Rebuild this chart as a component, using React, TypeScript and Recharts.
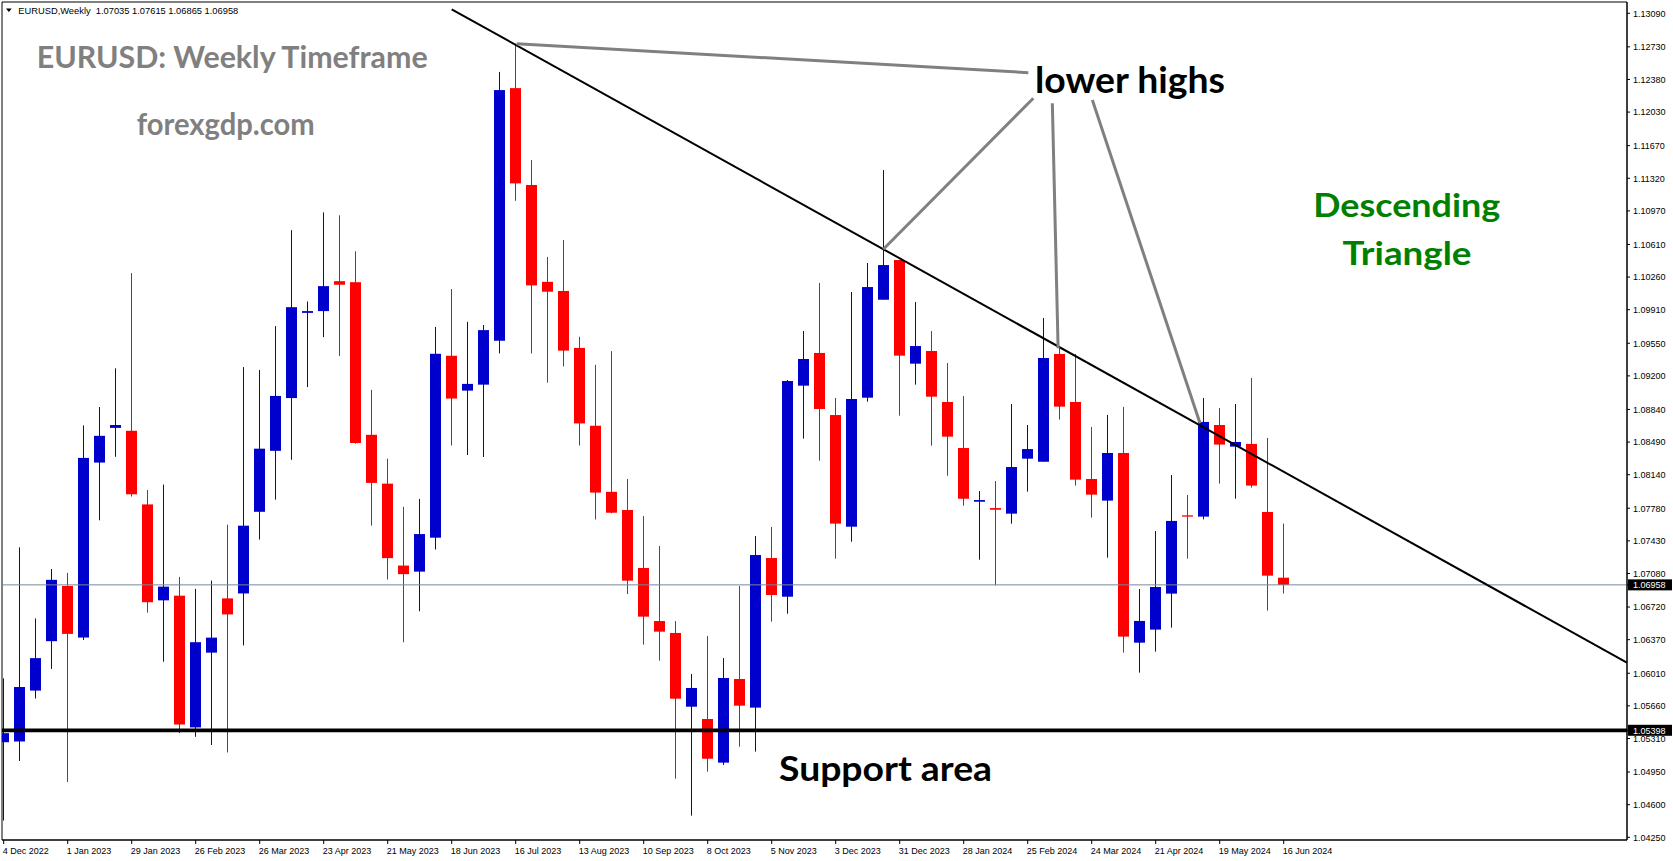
import React from 'react';
import { ComposedChart, Bar, XAxis, YAxis, ReferenceLine, ReferenceArea } from 'recharts';

const W = 1673;
const H = 861;

// weekly bars, index 0 = week of 4 Dec 2022
const opens = [
  1.0527, 1.05278, 1.05824, 1.06354, 1.06946, 1.06393, 1.0827, 1.08642, 1.08611, 1.07821,
  1.06792, 1.06842, 1.05429, 1.06231, 1.06813, 1.06866, 1.07742, 1.08396, 1.08962, 1.09876,
  1.09895, 1.10216, 1.10205, 1.08568, 1.08044, 1.07165, 1.071, 1.07464, 1.09416, 1.09042,
  1.09106, 1.09577, 1.12287, 1.11248, 1.10209, 1.10111, 1.095, 1.08665, 1.07956, 1.07761,
  1.07139, 1.0657, 1.06442, 1.05651, 1.05519, 1.05051, 1.05948, 1.05641, 1.07246, 1.06831,
  1.09095, 1.09446, 1.0878, 1.07582, 1.08966, 1.10017, 1.10443, 1.09331, 1.09467, 1.0892,
  1.08426, 1.0785, 1.07782, 1.07722, 1.08312, 1.08279, 1.09435, 1.0892, 1.08094, 1.07862,
  1.08373, 1.06338, 1.06478, 1.06864, 1.07704, 1.0769, 1.08673, 1.08441, 1.0847, 1.0774,
  1.07035,
];
const highs = [
  1.05955, 1.07361, 1.06598, 1.07128, 1.07086, 1.08669, 1.08866, 1.09281, 1.10303, 1.07976,
  1.08034, 1.07043, 1.06915, 1.07004, 1.07604, 1.09294, 1.09264, 1.09734, 1.10763, 1.09998,
  1.10954, 1.10923, 1.10537, 1.0905, 1.08312, 1.07795, 1.0788, 1.09725, 1.10132, 1.0978,
  1.09746, 1.12461, 1.12763, 1.11515, 1.10476, 1.10658, 1.09619, 1.09318, 1.09466, 1.08094,
  1.07697, 1.07375, 1.0657, 1.06002, 1.0641, 1.06173, 1.06946, 1.07482, 1.07579, 1.09156,
  1.09682, 1.10197, 1.08963, 1.101, 1.10411, 1.11408, 1.10443, 1.09992, 1.09681, 1.09338,
  1.08984, 1.07965, 1.08072, 1.08898, 1.08673, 1.09821, 1.095, 1.09435, 1.08652, 1.08781,
  1.08867, 1.06914, 1.07536, 1.08137, 1.07922, 1.08963, 1.08856, 1.08899, 1.09178, 1.08534,
  1.07615,
];
const lows = [
  1.0443, 1.05069, 1.05739, 1.06056, 1.04844, 1.06366, 1.07651, 1.08332, 1.07906, 1.0666,
  1.06134, 1.05367, 1.05328, 1.0524, 1.0516, 1.06308, 1.07444, 1.07872, 1.083, 1.0908,
  1.09616, 1.09413, 1.08472, 1.07593, 1.07015, 1.06342, 1.06675, 1.07337, 1.08453, 1.08351,
  1.0833, 1.09441, 1.11078, 1.09441, 1.09127, 1.09301, 1.08453, 1.07659, 1.07727, 1.0686,
  1.06317, 1.06145, 1.04879, 1.04482, 1.04954, 1.05026, 1.05222, 1.05169, 1.06563, 1.06649,
  1.08527, 1.0829, 1.07239, 1.07421, 1.08923, 1.10017, 1.08773, 1.09106, 1.08451, 1.08129,
  1.07807, 1.07228, 1.06953, 1.07614, 1.07958, 1.08279, 1.08731, 1.08023, 1.07679, 1.0725,
  1.06231, 1.06016, 1.06242, 1.06499, 1.07239, 1.07661, 1.08044, 1.07883, 1.08001, 1.06682,
  1.06865,
];
const closes = [
  1.05367, 1.05862, 1.06172, 1.07012, 1.06432, 1.0832, 1.08557, 1.08673, 1.0793, 1.06772,
  1.06939, 1.0546, 1.06343, 1.06392, 1.06641, 1.07593, 1.08419, 1.08985, 1.09937, 1.09895,
  1.10163, 1.10178, 1.0848, 1.08052, 1.07245, 1.07073, 1.07503, 1.09437, 1.08957, 1.09114,
  1.09691, 1.12266, 1.11265, 1.10171, 1.10103, 1.09471, 1.0869, 1.07948, 1.07732, 1.07003,
  1.06617, 1.06456, 1.05737, 1.05852, 1.05093, 1.05959, 1.05662, 1.07278, 1.06849, 1.09145,
  1.09381, 1.08845, 1.07615, 1.08952, 1.10153, 1.10389, 1.09417, 1.0952, 1.08977, 1.08548,
  1.07882, 1.07868, 1.07764, 1.08222, 1.08415, 1.09392, 1.0887, 1.08087, 1.07926, 1.08373,
  1.06403, 1.06571, 1.06935, 1.07644, 1.0769, 1.08706, 1.08463, 1.08491, 1.08023, 1.07057,
  1.06958,
];

const dateTickIdx = [0, 4, 8, 12, 16, 20, 24, 28, 32, 36, 40, 44, 48, 52, 56, 60, 64, 68, 72, 76, 80];
const dateTickLabels = [
  '4 Dec 2022', '1 Jan 2023', '29 Jan 2023', '26 Feb 2023', '26 Mar 2023', '23 Apr 2023',
  '21 May 2023', '18 Jun 2023', '16 Jul 2023', '13 Aug 2023', '10 Sep 2023', '8 Oct 2023',
  '5 Nov 2023', '3 Dec 2023', '31 Dec 2023', '28 Jan 2024', '25 Feb 2024', '24 Mar 2024',
  '21 Apr 2024', '19 May 2024', '16 Jun 2024',
];

const priceTicks = [
  1.1309, 1.1273, 1.1238, 1.1203, 1.1167, 1.1132, 1.1097, 1.1061, 1.1026, 1.0991, 1.0955,
  1.092, 1.0884, 1.0849, 1.0814, 1.0778, 1.0743, 1.0708, 1.0672, 1.0637, 1.0601, 1.0566,
  1.0531, 1.0495, 1.046, 1.0425,
];
const currentPrice = 1.06958;
const supportPrice = 1.05398;

const trendLine = [
  { x: 28.0, y: 1.13133 },
  { x: 101.45, y: 1.06124 },
];
const lowerHighLines = [
  [{ x: 32.06, y: 1.12763 }, { x: 64.04, y: 1.12453 }],
  [{ x: 54.975, y: 1.10558 }, { x: 64.35, y: 1.12178 }],
  [{ x: 65.54, y: 1.12124 }, { x: 65.9, y: 1.09496 }],
  [{ x: 68.04, y: 1.1216 }, { x: 74.77, y: 1.08691 }],
];

const X_MIN = -0.10625;
const X_MAX = 101.45625;
const Y_MIN = 1.04221;
const Y_MAX = 1.13211;

const BLUE = '#0000CC';
const RED = '#FF0000';
const BODY = 11;
const SMALL_FONT = "'Liberation Sans', Arial, sans-serif";
const BIG_FONT = "Lato, 'Open Sans', sans-serif";

const candles = opens.map((o, i) => ({
  i,
  open: o,
  high: highs[i],
  low: lows[i],
  close: closes[i],
  range: [lows[i], highs[i]],
}));

const Candle = (props: any) => {
  const { x, y, width, height, payload } = props;
  if (x == null || y == null || !payload) return null;
  const top = Math.min(y, y + height);
  const bottom = Math.max(y, y + height);
  const { open, close, high, low } = payload;
  const ppu = (bottom - top) / (high - low || 1e-9);
  const yO = top + (high - open) * ppu;
  const yC = top + (high - close) * ppu;
  const up = close >= open;
  const color = up ? BLUE : RED;
  const cx = Math.floor(x + width / 2) + 0.5;
  const bTop = Math.min(yO, yC);
  const bH = Math.max(1, Math.abs(yO - yC));
  return (
    <g>
      <line x1={cx} x2={cx} y1={top} y2={bottom} stroke={color} strokeWidth={1} />
      <rect x={cx - 0.5 - (BODY - 1) / 2} y={bTop} width={BODY} height={bH} fill={color} />
    </g>
  );
};

const DateTick = (props: any) => {
  const { x, y, payload } = props;
  const idx = dateTickIdx.indexOf(payload.value);
  const label = idx >= 0 ? dateTickLabels[idx] : '';
  return (
    <text x={x - 1} y={y + 8} fontSize={9} fontFamily={SMALL_FONT} fill="#000" textAnchor="start">
      {label}
    </text>
  );
};

const PriceTick = (props: any) => {
  const { x, y, payload } = props;
  const v = payload.value;
  const special = v === currentPrice || v === supportPrice;
  const label = Number(v).toFixed(5);
  if (special) {
    return (
      <g>
        <rect x={x - 5} y={y - 5.5} width={44} height={11} fill="#000" />
        <text x={x} y={y + 3.3} fontSize={9} fontFamily={SMALL_FONT} fill="#fff">
          {label}
        </text>
      </g>
    );
  }
  return (
    <text x={x} y={y + 3.3} fontSize={9} fontFamily={SMALL_FONT} fill="#000">
      {label}
    </text>
  );
};

export default function App() {
  return (
    <div style={{ position: 'absolute', left: 0, top: 0, width: W, height: H, background: '#fff' }}>
      <ComposedChart
        width={W}
        height={H}
        data={candles}
        margin={{ top: 2, right: 0, bottom: 2, left: 2 }}
      >
        <ReferenceArea
          x1={X_MIN}
          x2={X_MAX}
          y1={Y_MIN}
          y2={Y_MAX}
          fill="none"
          stroke="#000"
          strokeWidth={1}
          ifOverflow="visible"
        />
        <XAxis
          type="number"
          dataKey="i"
          domain={[X_MIN, X_MAX]}
          allowDataOverflow
          ticks={dateTickIdx}
          interval={0}
          tick={<DateTick />}
          tickSize={4}
          tickMargin={2}
          height={19}
          axisLine={{ stroke: '#000' }}
          tickLine={{ stroke: '#000' }}
        />
        <YAxis
          orientation="right"
          type="number"
          domain={[Y_MIN, Y_MAX]}
          allowDataOverflow
          ticks={[...priceTicks, currentPrice, supportPrice]}
          interval={0}
          tick={<PriceTick />}
          tickSize={3}
          tickMargin={3}
          width={46}
          axisLine={{ stroke: '#000' }}
          tickLine={{ stroke: '#000' }}
        />
        <ReferenceLine y={currentPrice} stroke="#778899" strokeWidth={1} ifOverflow="visible" />
        <Bar dataKey="range" barSize={BODY} shape={<Candle />} isAnimationActive={false} />
        <ReferenceLine y={supportPrice} stroke="#000" strokeWidth={3.7} ifOverflow="visible" />
        <ReferenceLine segment={trendLine} stroke="#000" strokeWidth={2} ifOverflow="visible" />
        {lowerHighLines.map((seg, k) => (
          <ReferenceLine key={k} segment={seg} stroke="#808080" strokeWidth={3} ifOverflow="visible" />
        ))}
      </ComposedChart>
      <svg
        width={W}
        height={H}
        style={{ position: 'absolute', left: 0, top: 0, pointerEvents: 'none' }}
      >
        <polygon points="6,8.5 11.7,8.5 8.85,12" fill="#000" />
        <text
          x={18.3}
          y={14.2}
          fontSize={9.5}
          fontFamily={SMALL_FONT}
          fill="#000"
          textLength={220}
          lengthAdjust="spacingAndGlyphs"
          style={{ whiteSpace: 'pre' }}
        >
          {'EURUSD,Weekly  1.07035 1.07615 1.06865 1.06958'}
        </text>
        <text x={36.7} y={68.3} fontSize={30} fontWeight={700} fontFamily={BIG_FONT} fill="#808080" textLength={391} lengthAdjust="spacingAndGlyphs">
          EURUSD: Weekly Timeframe
        </text>
        <text x={136.7} y={135} fontSize={30} fontWeight={700} fontFamily={BIG_FONT} fill="#808080" textLength={178} lengthAdjust="spacingAndGlyphs">
          forexgdp.com
        </text>
        <text x={1035} y={92.7} fontSize={36} fontWeight={700} fontFamily={BIG_FONT} fill="#000" textLength={190} lengthAdjust="spacingAndGlyphs">
          lower highs
        </text>
        <text x={1406.7} y={216.7} fontSize={32} fontWeight={700} fontFamily={BIG_FONT} fill="#008000" textAnchor="middle" textLength={187} lengthAdjust="spacingAndGlyphs">
          Descending
        </text>
        <text x={1407} y={265} fontSize={32} fontWeight={700} fontFamily={BIG_FONT} fill="#008000" textAnchor="middle" textLength={129} lengthAdjust="spacingAndGlyphs">
          Triangle
        </text>
        <text x={779} y={781} fontSize={34} fontWeight={700} fontFamily={BIG_FONT} fill="#000" textLength={213} lengthAdjust="spacingAndGlyphs">
          Support area
        </text>
      </svg>
    </div>
  );
}
